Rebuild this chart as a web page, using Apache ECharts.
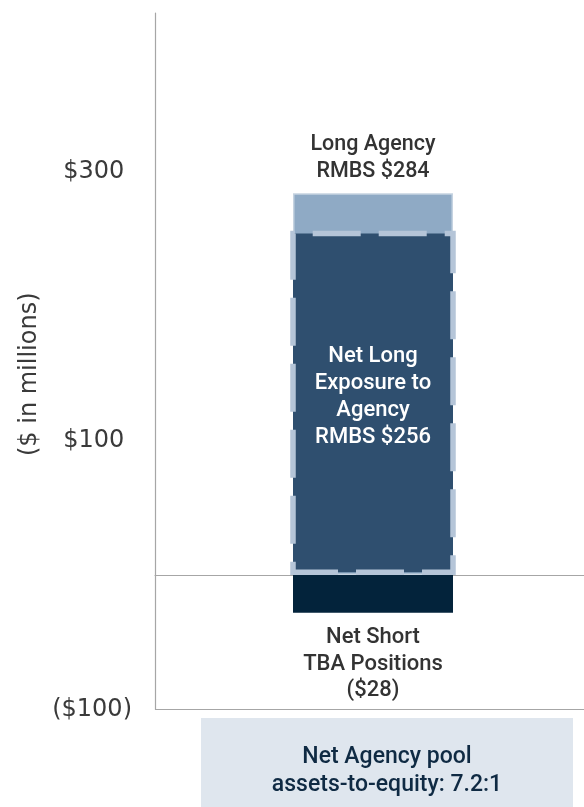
<!DOCTYPE html>
<html>
<head>
<meta charset="utf-8">
<script src="https://cdn.jsdelivr.net/npm/echarts@6/dist/echarts.min.js"></script>
<style>
html,body{margin:0;padding:0;background:#fff;}
#chart{width:584px;height:807px;}
</style>
</head>
<body>
<div id="chart"></div>
<script>
// ---- data ----
const categories = ['Agency RMBS'];
const longAgencyRMBS = [284];
const netLongExposure = [256];
const netShortTBA = [-28];
const yTickValues = [-100, 100, 300];
const yAxisTitle = '($ in millions)';
const boxText = 'Net Agency pool\nassets-to-equity: 7.2:1';

const fmtMoney = v => v < 0 ? '($' + Math.abs(v) + ')' : '$' + v;

const chart = echarts.init(document.getElementById('chart'), null, {renderer: 'canvas'});
const labelFont = 'Roboto, Liberation Sans, Arial, sans-serif';
const Y_MIN = -100, Y_MAX = 418;
const gridTop = 13, gridBottom = 97.5;

const hiddenX = idx => ({
  gridIndex: idx, type: 'category', data: categories,
  axisLine: {show: false}, axisTick: {show: false}, axisLabel: {show: false}, splitLine: {show: false}
});
const hiddenY = idx => ({gridIndex: idx, type: 'value', min: Y_MIN, max: Y_MAX, interval: 100, show: false});

chart.setOption({
  animation: false,
  backgroundColor: '#ffffff',
  grid: [
    {left: 155, right: 0, top: gridTop, bottom: gridBottom, containLabel: false},
    {left: 162, right: 0, top: gridTop, bottom: gridBottom, containLabel: false},
    {left: 162, right: 0, top: gridTop, bottom: gridBottom, containLabel: false}
  ],
  xAxis: [
    {
      gridIndex: 0, type: 'category', data: categories,
      axisLine: {show: true, onZero: true, lineStyle: {color: '#a6a6a6', width: 1}},
      axisTick: {show: false}, axisLabel: {show: false}, splitLine: {show: false}
    },
    hiddenX(1),
    hiddenX(2)
  ],
  yAxis: [
    {
      gridIndex: 0, type: 'value', min: Y_MIN, max: Y_MAX, interval: 100,
      axisLine: {show: true, lineStyle: {color: '#a6a6a6', width: 1.2}},
      axisTick: {show: false},
      splitLine: {show: false},
      axisLabel: {
        margin: 23,
        fontFamily: 'DejaVu Sans',
        fontSize: 24,
        color: '#3a3a3a',
        formatter: v => yTickValues.includes(v) ? (v < 0 ? fmtMoney(v) : fmtMoney(v) + ' ') : ''
      },
      name: yAxisTitle,
      nameLocation: 'middle',
      nameRotate: 90,
      nameGap: 110,
      nameTextStyle: {fontFamily: 'DejaVu Sans', fontSize: 24, color: '#3a3a3a', padding: [0, 26, 0, 0]}
    },
    hiddenY(1),
    hiddenY(2)
  ],
  series: [
    {
      name: 'baseline',
      type: 'line',
      xAxisIndex: 0, yAxisIndex: 0,
      data: [],
      silent: true,
      markLine: {
        silent: true, symbol: 'none', label: {show: false},
        lineStyle: {color: '#a6a6a6', width: 1, type: 'solid'},
        data: [{yAxis: Y_MIN}]
      }
    },
    {
      name: 'Long Agency RMBS',
      type: 'bar',
      xAxisIndex: 1, yAxisIndex: 1,
      data: longAgencyRMBS,
      barWidth: 160,
      barGap: '-100%',
      itemStyle: {color: '#8faac5', borderColor: '#c6d3e1', borderWidth: 1.5},
      label: {
        show: true, position: 'top', distance: 8,
        fontFamily: labelFont, fontWeight: 500, fontSize: 21.5, lineHeight: 27, color: '#333333',
        formatter: p => 'Long Agency\nRMBS ' + fmtMoney(p.value)
      }
    },
    {
      name: 'Net Short TBA Positions',
      type: 'bar',
      xAxisIndex: 1, yAxisIndex: 1,
      data: netShortTBA,
      barWidth: 160,
      barGap: '-100%',
      itemStyle: {color: '#03233b'},
      label: {
        show: true, position: 'bottom', distance: 12,
        fontFamily: labelFont, fontWeight: 500, fontSize: 22, lineHeight: 26.5, color: '#333333',
        formatter: p => 'Net Short\nTBA Positions\n' + fmtMoney(p.value)
      }
    },
    {
      name: 'Net Long Exposure to Agency RMBS',
      type: 'bar',
      xAxisIndex: 2, yAxisIndex: 2,
      data: netLongExposure,
      barWidth: 165.5,
      itemStyle: {
        color: '#2f4f6f', borderColor: '#b5c5d8', borderWidth: 5.5,
        borderType: [48, 18], borderDashOffset: 3
      },
      label: {
        show: true, position: 'inside', offset: [0, -6],
        fontFamily: labelFont, fontWeight: 500, fontSize: 22, lineHeight: 27, color: '#ffffff',
        formatter: p => 'Net Long\nExposure to\nAgency\nRMBS ' + fmtMoney(p.value)
      }
    }
  ],
  graphic: [
    {
      type: 'rect', left: 201, top: 718,
      shape: {width: 372, height: 89},
      style: {fill: '#dfe6ee'}, silent: true
    },
    {
      type: 'text', x: 387, y: 771,
      style: {
        text: boxText, fontFamily: labelFont, fontWeight: 500, fontSize: 23, lineHeight: 27.5,
        fill: '#0f2a43', align: 'center', verticalAlign: 'middle'
      }
    }
  ]
});
</script>
</body>
</html>
